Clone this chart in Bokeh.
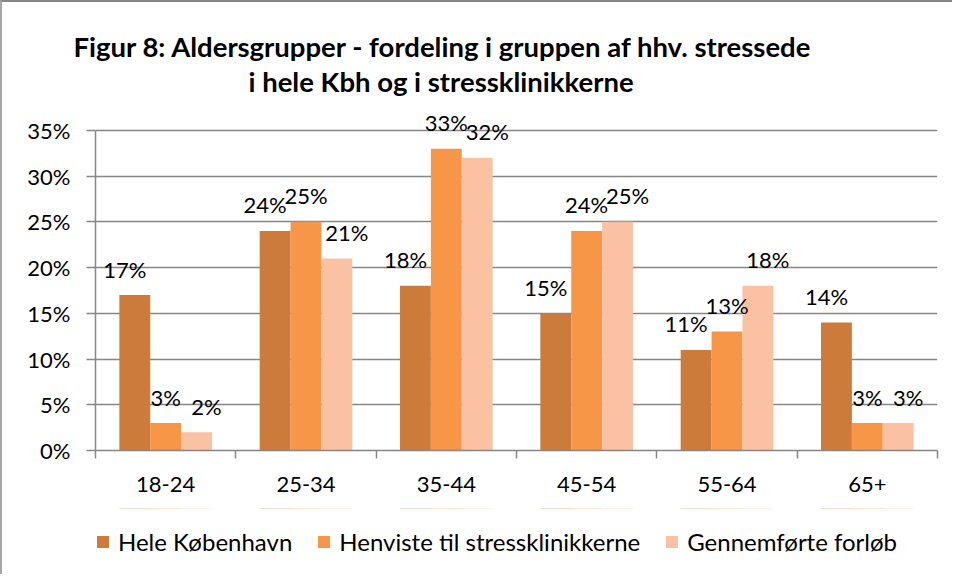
from bokeh.plotting import figure
from bokeh.layouts import column
from bokeh.models import (ColumnDataSource, FixedTicker, NumeralTickFormatter, LabelSet,
                          Legend, LegendItem, Range1d, Title)
from bokeh.core.properties import value
from bokeh.embed import file_html
from bokeh.resources import INLINE

# ---- data ----
categories = ["18-24", "25-34", "35-44", "45-54", "55-64", "65+"]
series_names = ["Hele København", "Henviste til stressklinikkerne", "Gennemførte forløb"]
hele_kbh = [17, 24, 18, 15, 11, 14]
henviste = [3, 25, 33, 24, 13, 3]
gennemfoerte = [2, 21, 32, 25, 18, 3]
y_ticks = [0, 5, 10, 15, 20, 25, 30, 35]
title_line1 = "Figur 8: Aldersgrupper - fordeling i gruppen af hhv. stressede"
title_line2 = "i hele Kbh og i stressklinikkerne"

# ---- style ----
colors = ["#CD7B3A", "#F79646", "#FAC2A3"]
FONT = "Lato"
GRID = "#868686"
BAR_W = 0.22
label_nudge = [-10, 0, 10]
W = 950

p = figure(width=W, height=506, output_backend="svg", toolbar_location=None,
           x_range=Range1d(0, len(categories)), y_range=Range1d(0, 0.375),
           min_border_left=93, min_border_right=15, min_border_top=105, min_border_bottom=58,
           background_fill_color="white", border_fill_color="white")
p.outline_line_color = None

# legend strip below the chart (shares the bar sources; its y-range hides the bars)
lg = figure(width=W, height=66, output_backend="svg", toolbar_location=None,
            x_range=Range1d(0, len(categories)), y_range=Range1d(-2, -1),
            x_axis_type=None, y_axis_type=None,
            min_border=0, background_fill_color="white", border_fill_color="white")
lg.outline_line_color = None
lg.grid.visible = False

series = [hele_kbh, henviste, gennemfoerte]
items = []
for i, vals in enumerate(series):
    src = ColumnDataSource(dict(
        x=[j + 0.5 + (i - 1) * BAR_W for j in range(len(categories))],
        top=[v / 100 for v in vals],
        label=[f"{v}%" for v in vals],
    ))
    p.vbar(x="x", top="top", width=BAR_W, source=src, fill_color=colors[i], line_color=None)
    p.add_layout(LabelSet(x="x", y="top", text="label", source=src, x_offset=label_nudge[i],
                          y_offset=26, text_align="center", text_baseline="middle",
                          text_font=value(FONT), text_font_size="22px", text_color="black"))
    r = lg.vbar(x="x", top="top", width=BAR_W, source=src, fill_color=colors[i], line_color=None)
    items.append(LegendItem(label=series_names[i], renderers=[r]))

# axes
p.yaxis.ticker = FixedTicker(ticks=[v / 100 for v in y_ticks])
p.yaxis.formatter = NumeralTickFormatter(format="0%")
p.yaxis.bounds = (0, y_ticks[-1] / 100)
p.yaxis.major_tick_out = 9
p.yaxis.major_tick_in = 0
p.yaxis.minor_tick_line_color = None
p.yaxis.major_tick_line_color = GRID
p.yaxis.major_tick_line_width = 1.5
p.yaxis.axis_line_color = GRID
p.yaxis.axis_line_width = 1.5
p.yaxis.major_label_standoff = 16
p.yaxis.major_label_text_font = FONT
p.yaxis.major_label_text_font_size = "22px"
p.yaxis.major_label_text_color = "black"

p.xaxis.ticker = FixedTicker(ticks=[j + 0.5 for j in range(len(categories))],
                             minor_ticks=list(range(len(categories) + 1)))
p.xaxis.major_label_overrides = {j + 0.5: c for j, c in enumerate(categories)}
p.xaxis.major_tick_line_color = None
p.xaxis.major_tick_out = 8
p.xaxis.minor_tick_out = 8
p.xaxis.minor_tick_in = 0
p.xaxis.minor_tick_line_color = GRID
p.xaxis.minor_tick_line_width = 1.5
p.xaxis.axis_line_color = GRID
p.xaxis.axis_line_width = 1.5
p.xaxis.major_label_standoff = 18
p.xaxis.major_label_text_font = FONT
p.xaxis.major_label_text_font_size = "22px"
p.xaxis.major_label_text_color = "black"

p.xgrid.grid_line_color = None
p.ygrid.grid_line_color = GRID
p.ygrid.grid_line_width = 1.5

# two centred title lines (line 2 nearest the plot)
p.title.text = title_line1
p.title.align = "left"
p.title.offset = -22
p.title.text_font = FONT
p.title.text_font_size = "27.5px"
p.title.text_font_style = "bold"
p.title.text_color = "black"
p.title.text_line_height = 1.3
p.title.standoff = -19
p.add_layout(Title(text=title_line2, align="left", offset=153, text_font=FONT,
                   text_font_size="27.5px", text_font_style="bold", text_color="black",
                   text_line_height=1.3, standoff=19), "above")

legend = Legend(items=items, orientation="horizontal", location=(0, 18),
                label_text_font=FONT, label_text_font_size="24px", label_text_color="black",
                glyph_width=15, glyph_height=15, spacing=24, label_standoff=8,
                border_line_color=None, background_fill_alpha=0, margin=0, padding=0)
lg.add_layout(legend, "center")

layout = column(p, lg, spacing=0,
                styles={"border-left": "2px solid #A6A6A6", "border-top": "2px solid #868686"})

open("out.html", "w").write(file_html(layout, INLINE))
